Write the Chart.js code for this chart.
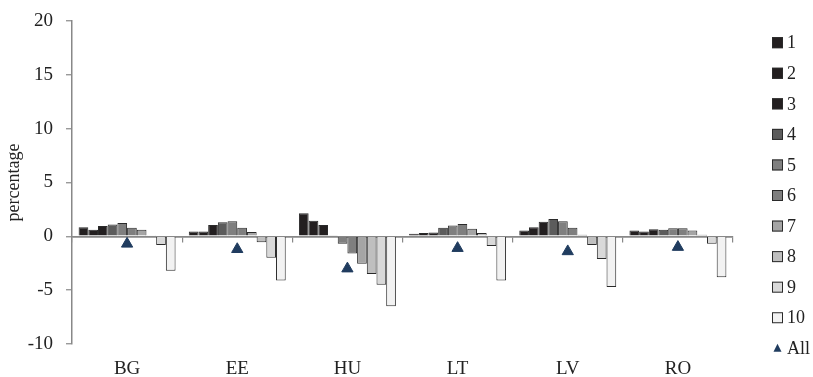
<!DOCTYPE html>
<html>
<head>
<meta charset="utf-8">
<script src="https://cdn.jsdelivr.net/npm/chart.js@4"></script>
<style>
  html, body { margin: 0; padding: 0; background: #fff; }
</style>
</head>
<body>
<canvas id="groupsChart" width="813" height="377"></canvas>
<script>
// categories
const countries = ["BG", "EE", "HU", "LT", "LV", "RO"];

// one array per group (percentage), order follows countries
const group1  = [0.85, 0.45, 2.15, 0.25, 0.55, 0.55];
const group2  = [0.6, 0.45, 1.45, 0.3, 0.85, 0.45];
const group3  = [0.95, 1.05, 1.05, 0.35, 1.35, 0.65];
const group4  = [1.1, 1.3, 0.1, 0.8, 1.6, 0.6];
const group5  = [1.25, 1.4, -0.7, 1.0, 1.4, 0.75];
const group6  = [0.8, 0.8, -1.6, 1.15, 0.8, 0.75];
const group7  = [0.6, 0.4, -2.55, 0.7, 0.15, 0.55];
const group8  = [0.05, -0.55, -3.5, 0.3, -0.8, 0.15];
const group9  = [-0.8, -2.0, -4.5, -0.9, -2.1, -0.7];
const group10 = [-3.2, -4.1, -6.5, -4.1, -4.7, -3.8];
const allGroups = [-0.7, -1.2, -3.0, -1.1, -1.4, -1.0];

const groupLabels = ["1", "2", "3", "4", "5", "6", "7", "8", "9", "10"];
const yTicks = [-10, -5, 0, 5, 10, 15, 20];

const groupData = [group1, group2, group3, group4, group5, group6, group7, group8, group9, group10];
const fills = ["#231f20", "#231f20", "#231f20", "#5c5c5c", "#7f7f7f", "#7f7f7f",
               "#a5a5a5", "#bfbfbf", "#d9d9d9", "#f2f2f2"];
const navy = "#203c5f";
const axisGrey = "#888888";
const textColor = "#222222";
const serif = "'Liberation Serif', 'DejaVu Serif', serif";

const datasets = groupData.map((vals, i) => ({
  type: "bar",
  label: groupLabels[i],
  data: vals,
  backgroundColor: fills[i],
  borderColor: "#2a2a2a",
  borderWidth: 1,
  categoryPercentage: 0.88,
  barPercentage: 1.0
}));

datasets.push({
  type: "line",
  label: "All",
  data: allGroups,
  showLine: false,
  pointStyle: "triangle",
  pointRadius: 6.5,
  pointBackgroundColor: navy,
  pointBorderColor: navy,
  pointBorderWidth: 1,
  order: -1
});

// legend column on the right, drawn by hand so it can sit away from the plot
const sideLegend = {
  id: "sideLegend",
  afterDraw(chart) {
    const ctx = chart.ctx;
    const bx = chart.chartArea.right + 39;
    ctx.save();
    ctx.font = "18px " + serif;
    ctx.textBaseline = "middle";
    ctx.fillStyle = textColor;
    chart.data.datasets.forEach((ds, i) => {
      const y = 42.7 + i * 30.56;
      if (ds.type === "line") {
        ctx.fillStyle = navy;
        ctx.beginPath();
        ctx.moveTo(bx + 5.5, y - 4.5);
        ctx.lineTo(bx + 1.5, y + 3.5);
        ctx.lineTo(bx + 9.5, y + 3.5);
        ctx.closePath();
        ctx.fill();
      } else {
        ctx.fillStyle = ds.backgroundColor;
        ctx.fillRect(bx, y - 5.5, 11, 11);
        ctx.strokeStyle = "#2a2a2a";
        ctx.lineWidth = 1;
        ctx.strokeRect(bx + 0.5, y - 5, 10, 10);
      }
      ctx.fillStyle = textColor;
      ctx.fillText(ds.label, bx + 15, y + 1);
    });
    ctx.restore();
  }
};

new Chart(document.getElementById("groupsChart"), {
  type: "bar",
  data: { labels: countries, datasets: datasets },
  options: {
    responsive: false,
    animation: false,
    layout: { padding: { top: 21, right: 80, bottom: 0, left: 0 } },
    plugins: {
      legend: { display: false },
      tooltip: { enabled: false }
    },
    scales: {
      x: {
        afterFit: s => { s.height = 33; },
        grid: { display: false, drawTicks: false },
        border: { display: false },
        ticks: { color: textColor, font: { family: serif, size: 19 }, padding: 14 }
      },
      zeroAxis: {
        type: "category",
        axis: "x",
        labels: countries,
        position: { y: 0 },
        offset: true,
        afterFit: s => { s.height = 0; },
        grid: { offset: true, drawOnChartArea: false, drawTicks: true, tickLength: 5, color: axisGrey, lineWidth: 1.2 },
        border: { color: axisGrey, width: 1.5 },
        ticks: { display: false }
      },
      y: {
        min: yTicks[0],
        max: yTicks[yTicks.length - 1],
        afterBuildTicks: s => { s.ticks = yTicks.map(v => ({ value: v })); },
        afterFit: s => { s.width = 72; s.paddingTop = 0; s.paddingBottom = 0; },
        grid: {
          drawOnChartArea: true,
          tickLength: 6,
          lineWidth: 1.5,
          color: c => (c.tick && c.tick.value === 0 ? axisGrey : "rgba(0,0,0,0)"),
          tickColor: axisGrey,
          tickWidth: 1.2
        },
        border: { color: axisGrey, width: 1.5 },
        ticks: { color: textColor, font: { family: serif, size: 19 }, padding: 13 },
        title: {
          display: true,
          text: "percentage",
          color: textColor,
          font: { family: serif, size: 18 },
          padding: { top: 3, bottom: 0 }
        }
      }
    }
  },
  plugins: [sideLegend]
});
</script>
</body>
</html>
